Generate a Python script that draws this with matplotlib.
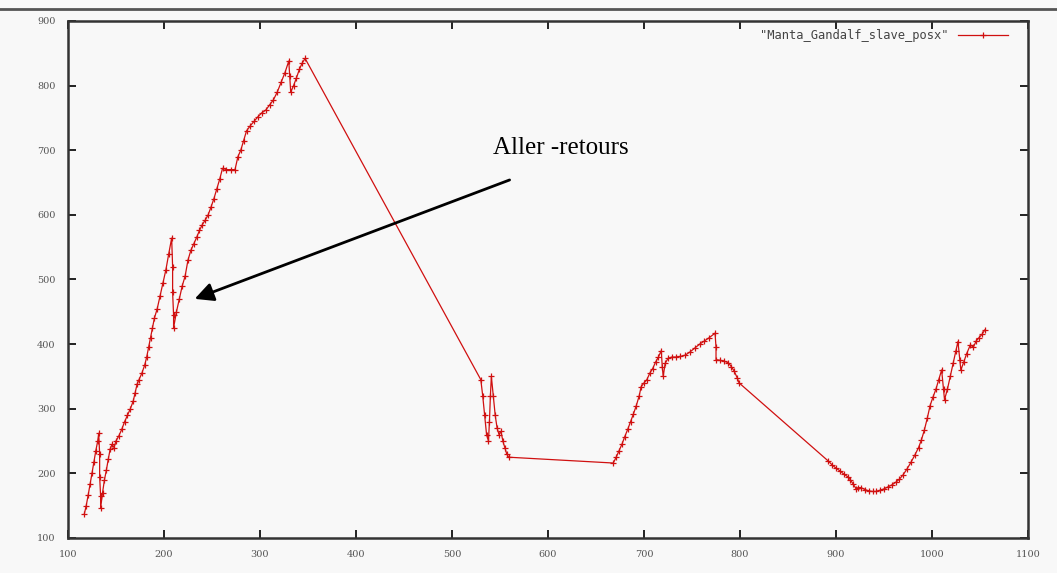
"""Gnuplot-style trace of Manta_Gandalf_slave_posx with annotation."""

import matplotlib
matplotlib.use('Agg')
import matplotlib.pyplot as plt
from matplotlib.lines import Line2D

# Data (x = sample, y = position)
x_vals = [
    117, 119, 121, 123, 125, 127, 129, 131, 132,
    133, 133, 134, 134,
    136, 138, 140, 142, 144, 146, 148, 150, 153, 156, 159, 162, 165, 168,
    170, 172, 174, 177, 180, 182, 184, 186, 188, 190, 193, 196, 199, 202,
    205, 208,
    209, 209, 210, 210,
    213, 216, 219, 222, 225, 228, 231, 234, 237, 240, 243, 246, 249, 252,
    255, 258, 261, 265, 270, 274, 277, 280, 283, 286, 290, 294, 298, 302,
    306, 310, 314, 318, 322, 326, 330,
    331, 332,
    335, 338, 341, 344, 347,
    530, 532, 534, 536, 538, 539, 540, 541, 543, 545, 547, 549, 551, 553,
    555, 557, 559,
    668, 671, 674, 677, 680, 683, 686, 689, 692, 695, 697, 700, 703, 706,
    709, 712, 715, 718, 719, 720, 722, 725, 729, 733, 738, 743, 748, 753,
    758, 763, 768, 774,
    775, 775, 779, 783, 788, 791, 794, 797, 799,
    892, 896, 900, 904, 908, 912, 915, 918, 921, 923, 926, 930, 934, 938,
    942, 946, 950, 954, 958, 962, 966, 970, 974, 978, 982, 986, 989, 992,
    995, 998, 1001, 1004, 1007, 1010, 1012, 1013, 1016, 1019, 1022, 1025,
    1027, 1029, 1030, 1033, 1036, 1040, 1043, 1046, 1049, 1052, 1055,
]
y_vals = [
    137, 150, 166, 183, 200, 218, 235, 250, 262,
    230, 195, 165, 146,
    170, 190, 205, 222, 238, 245, 240, 250, 258, 268, 280, 290, 300, 312,
    325, 338, 345, 355, 368, 380, 395, 410, 425, 440, 455, 475, 495, 515,
    540, 564,
    520, 480, 445, 425,
    450, 470, 490, 505, 530, 545, 555, 565, 576, 585, 592, 600, 612, 625,
    640, 655, 672, 670, 670, 670, 690, 700, 715, 730, 738, 745, 752, 758,
    762, 770, 778, 790, 805, 820, 838,
    815, 790,
    800, 812, 825, 835, 842,
    345, 320, 290, 260, 250, 280, 320, 350, 320, 290, 270, 260, 265, 250,
    240, 230, 225,
    216, 225, 235, 245, 257, 268, 280, 292, 305, 320, 334, 340, 345, 355,
    362, 372, 380, 390, 365, 350, 370, 378, 380, 380, 381, 383, 388, 394,
    400, 405, 410, 417,
    395, 376, 375, 374, 371, 365, 358, 348, 340,
    219, 213, 208, 204, 199, 195, 190, 183, 176, 178, 178, 175, 173, 172,
    172, 174, 176, 179, 182, 186, 191, 198, 207, 217, 228, 240, 252, 267,
    285, 305, 318, 330, 345, 360, 330, 314, 330, 350, 370, 390,
    404, 375, 360, 372, 385, 399, 395, 405, 410, 415, 422,
]

series_label = '"Manta_Gandalf_slave_posx"'
x_ticks = [100, 200, 300, 400, 500, 600, 700, 800, 900, 1000, 1100]
y_ticks = [100, 200, 300, 400, 500, 600, 700, 800, 900]

annot_text = "Aller -retours"
annot_text_pos = (613, 704)
arrow_tail = (560, 654)
arrow_head = (232, 470)

LINE_RED = '#d01010'
TICK_GREY = '#555555'

fig = plt.figure(figsize=(10.57, 5.73), dpi=100, facecolor='#f8f8f8')
ax = fig.add_axes([0.0643, 0.0611, 0.9083, 0.9023])
ax.set_facecolor('#f8f8f8')

ax.plot(x_vals, y_vals, color=LINE_RED, lw=0.9, marker='+', ms=4,
        mew=0.9, label=series_label)

ax.set_xlim(100, 1100)
ax.set_ylim(100, 900)
ax.set_xticks(x_ticks)
ax.set_yticks(y_ticks)
ax.tick_params(direction='in', length=6, width=1.4, color='#222222',
               top=True, right=True, labelsize=7, labelcolor=TICK_GREY,
               pad=9)
for tick in ax.get_xticklabels() + ax.get_yticklabels():
    tick.set_family('DejaVu Serif')
for spine in ax.spines.values():
    spine.set_linewidth(1.8)
    spine.set_color('#333333')

# legend, gnuplot style: text first then sample
leg = ax.legend(loc='upper right', bbox_to_anchor=(0.984, 0.994),
                frameon=False, markerfirst=False, handlelength=4.1,
                borderaxespad=0, prop={'family': 'DejaVu Sans Mono',
                                       'size': 8.7})
for txt in leg.get_texts():
    txt.set_color('#444444')

# annotation
ax.text(annot_text_pos[0], annot_text_pos[1], annot_text,
        family='Liberation Serif', fontsize=18, ha='center', va='center',
        color='black')
ax.annotate('', xy=arrow_head, xytext=arrow_tail,
            arrowprops=dict(arrowstyle='-|>', mutation_scale=28, lw=2,
                            color='black', shrinkA=0, shrinkB=0))

# dark strip at the top of the screenshot
fig.add_artist(Line2D([0, 1], [0.985, 0.985], transform=fig.transFigure,
                      color='#555555', lw=2))

fig.savefig('out.png', dpi=100, facecolor=fig.get_facecolor())
